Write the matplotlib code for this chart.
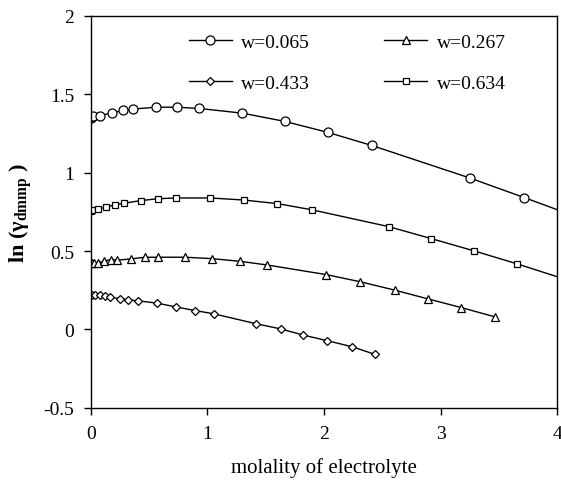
import matplotlib
matplotlib.use("Agg")
import matplotlib.pyplot as plt

plt.rcParams['font.family'] = ['Liberation Serif', 'DejaVu Serif']

# w = 0.065
m_065 = [0.0, 0.01, 0.02, 0.077, 0.177, 0.272, 0.363, 0.555, 0.735, 0.929,
         1.30, 1.667, 2.035, 2.41, 3.253, 3.72, 4.2]
g_065 = [1.348, 1.353, 1.359, 1.365, 1.380, 1.397, 1.406, 1.418, 1.418, 1.410,
         1.380, 1.327, 1.257, 1.174, 0.966, 0.841, 0.71]

# w = 0.267
m_267 = [0.0, 0.01, 0.03, 0.063, 0.11, 0.169, 0.226, 0.34, 0.466, 0.577,
         0.806, 1.038, 1.278, 1.507, 2.021, 2.313, 2.607, 2.893, 3.176, 3.465]
g_267 = [0.425, 0.425, 0.425, 0.425, 0.435, 0.446, 0.442, 0.450, 0.461, 0.461,
         0.461, 0.452, 0.435, 0.412, 0.350, 0.304, 0.251, 0.195, 0.140, 0.081]

# w = 0.433
m_433 = [0.0, 0.01, 0.034, 0.077, 0.12, 0.163, 0.249, 0.32, 0.40, 0.569,
         0.729, 0.892, 1.055, 1.421, 1.627, 1.824, 2.03, 2.241, 2.438]
g_433 = [0.223, 0.222, 0.219, 0.217, 0.215, 0.206, 0.197, 0.189, 0.183, 0.168,
         0.144, 0.121, 0.100, 0.036, 0.004, -0.036, -0.072, -0.110, -0.159]

# w = 0.634
m_634 = [0.0, 0.01, 0.063, 0.134, 0.209, 0.283, 0.426, 0.572, 0.729, 1.021,
         1.31, 1.60, 1.893, 2.556, 2.919, 3.29, 3.66, 4.1]
g_634 = [0.754, 0.760, 0.769, 0.781, 0.796, 0.805, 0.822, 0.834, 0.839, 0.839,
         0.826, 0.803, 0.764, 0.656, 0.580, 0.501, 0.418, 0.313]

fig = plt.figure(figsize=(5.61, 4.85), dpi=100)
ax = fig.add_axes([0.162, 0.157, 0.831, 0.808])

style = dict(color='black', lw=1, mfc='white', mec='black', mew=0.9)
l1, = ax.plot(m_065, g_065, marker='o', ms=6.5, label='w=0.065', **style)
l2, = ax.plot(m_267, g_267, marker='^', ms=5.5, label='w=0.267', **style)
l3, = ax.plot(m_433, g_433, marker='D', ms=4, label='w=0.433', **style)
l4, = ax.plot(m_634, g_634, marker='s', ms=4.5, label='w=0.634', **style)

ax.set_xlim(0, 4)
ax.set_ylim(-0.5, 2)
ax.set_xticks([0, 1, 2, 3, 4])
ax.set_yticks([-0.5, 0, 0.5, 1, 1.5, 2])
ax.set_xticklabels(['0', '1', '2', '3', '4'])
ax.set_yticklabels(['-0.5', '0', '0.5', '1', '1.5', '2'])
ax.tick_params(direction='out', length=5, width=1, labelsize=14, pad=7)
for s in ax.spines.values():
    s.set_linewidth(1)

ax.set_xlabel('molality of electrolyte', fontsize=15, labelpad=11)
ax.set_ylabel('ln (γ$_{\\mathregular{dmmp}}$ )', fontsize=16,
              fontweight='bold', labelpad=6)

leg = ax.legend([l1, l3, l2, l4], ['w=0.065', 'w=0.433', 'w=0.267', 'w=0.634'],
                ncol=2, loc='upper center', bbox_to_anchor=(0.55, 1.0),
                frameon=False, fontsize=14, handlelength=2.2,
                columnspacing=3.8, labelspacing=1.2, handletextpad=0.5)

fig.savefig('out.png', dpi=100)
